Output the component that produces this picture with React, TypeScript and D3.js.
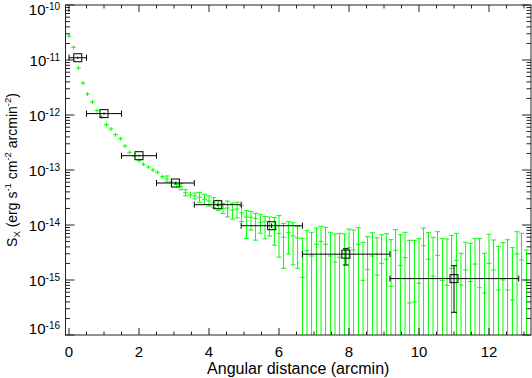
import * as d3 from "d3";

// surface brightness profile, fine bins (arcmin)
const radius = [
  0.0, 0.13, 0.27, 0.4, 0.53, 0.67, 0.8, 0.93, 1.07, 1.2, 1.33, 1.47, 1.6, 1.73, 1.87, 2.0, 2.13, 2.27, 2.4, 2.53,
  2.67, 2.8, 2.93, 3.07, 3.2, 3.33, 3.47, 3.6, 3.73, 3.87, 4.0, 4.13, 4.27, 4.4, 4.53, 4.67, 4.8, 4.93, 5.07, 5.2,
  5.33, 5.47, 5.6, 5.73, 5.87, 6.0, 6.13, 6.27, 6.4, 6.53, 6.67, 6.8, 6.93, 7.07, 7.2, 7.33, 7.47, 7.6, 7.73, 7.87,
  8.0, 8.13, 8.27, 8.4, 8.53, 8.67, 8.8, 8.93, 9.07, 9.2, 9.33, 9.47, 9.6, 9.73, 9.87, 10.0, 10.13, 10.27, 10.4, 10.53,
  10.67, 10.8, 10.93, 11.07, 11.2, 11.33, 11.47, 11.6, 11.73, 11.87, 12.0, 12.13, 12.27, 12.4, 12.53, 12.67, 12.8, 12.93, 13.07,
];
const binHalf = 0.067;

const sx = [
  2.73e-11, 1.7e-11, 7.16e-12, 3.82e-12, 2.41e-12, 1.72e-12, 1.2e-12, 9.2e-13, 6.67e-13, 5.56e-13,
  4.39e-13, 3.71e-13, 2.73e-13, 2.1e-13, 1.8e-13, 1.48e-13, 1.27e-13, 1.135e-13, 1.0e-13, 9.08e-14,
  7.55e-14, 6.86e-14, 6.05e-14, 5.45e-14, 4.98e-14, 3.86e-14, 3.51e-14, 3.37e-14, 3.19e-14, 2.93e-14,
  2.73e-14, 2.54e-14, 2.28e-14, 2.01e-14, 2.04e-14, 1.87e-14, 1.95e-14, 1.67e-14, 1.4e-14, 1.38e-14,
  1.32e-14, 1.12e-14, 1.17e-14, 9.6e-15, 8.45e-15, 7.06e-15, 5.97e-15, 7.24e-15, 6.31e-15, 5.8e-15,
  1.12e-15, 3.41e-15, 2.73e-15, 4.46e-15, 5.05e-15, 4.46e-15, 2.73e-15, 2.12e-15, 2.59e-15, 3.06e-15,
  3.87e-15, 3.51e-15, 4.46e-15, 9.87e-16, 1.56e-15, 2.73e-15, 1.23e-15, 2.01e-15, 2.38e-15, 7.68e-16,
  3.47e-15, 1.85e-15, 2.54e-15, 3.82e-16, 3.98e-16, 8.71e-16, 4.2e-15, 2.38e-15, 1.18e-15, 2.81e-15,
  9.71e-16, 8.01e-16, 1.63e-15, 2.28e-15, 8.11e-16, 1.52e-15, 9.4e-16, 1.95e-15, 7.24e-16, 5.81e-16,
  2.01e-15, 1.52e-15, 6.58e-16, 1.0e-15, 6.58e-16, 4.33e-16, 2.97e-15, 2.31e-15, 1.0e-15,
];
const sxLo = [
  2.51e-11, 1.56e-11, 6.6e-12, 3.5e-12, 2.22e-12, 1.58e-12, 1.1e-12, 8.5e-13, 6.1e-13, 5.1e-13,
  4.04e-13, 3.41e-13, 2.51e-13, 1.93e-13, 1.66e-13, 1.36e-13, 1.17e-13, 1.04e-13, 9.2e-14, 8.35e-14,
  6.95e-14, 6.05e-14, 5.34e-14, 4.81e-14, 4.39e-14, 3.4e-14, 3.1e-14, 2.97e-14, 2.59e-14, 2.38e-14,
  2.21e-14, 2.06e-14, 1.85e-14, 1.63e-14, 1.4e-14, 1.28e-14, 1.35e-14, 1.15e-14, 5.7e-15, 8.1e-15,
  5.3e-15, 7.1e-15, 5.6e-15, 6.3e-15, 4.3e-15, 2.6e-15, 1.63e-15, 2.97e-15, 1.88e-15, 1.63e-15,
  0, 0, 0, 0, 0, 0, 0, 0, 0, 0,
  0, 0, 0, 0, 0, 0, 0, 0, 0, 0,
  0, 0, 0, 0, 0, 0, 0, 0, 0, 0,
  0, 0, 0, 0, 0, 0, 0, 0, 0, 0,
  0, 0, 0, 0, 0, 0, 0, 0, 0,
];
const sxHi = [
  2.97e-11, 1.85e-11, 7.8e-12, 4.15e-12, 2.62e-12, 1.87e-12, 1.3e-12, 1.0e-12, 7.25e-13, 6.05e-13,
  4.77e-13, 4.03e-13, 2.97e-13, 2.28e-13, 1.96e-13, 1.61e-13, 1.38e-13, 1.23e-13, 1.09e-13, 9.87e-14,
  8.2e-14, 7.78e-14, 6.86e-14, 6.18e-14, 5.65e-14, 4.38e-14, 3.98e-14, 3.82e-14, 3.93e-14, 3.61e-14,
  3.37e-14, 3.13e-14, 2.81e-14, 2.48e-14, 2.73e-14, 2.51e-14, 2.6e-14, 2.24e-14, 1.82e-14, 1.75e-14,
  1.63e-14, 1.57e-14, 1.42e-14, 1.4e-14, 1.36e-14, 1.48e-14, 1.07e-14, 1.15e-14, 1.1e-14, 9.3e-15,
  5.73e-15, 7.88e-15, 7.37e-15, 8.82e-15, 9.47e-15, 9.08e-15, 7.37e-15, 6.86e-15, 7.06e-15, 6.86e-15,
  8.46e-15, 8.11e-15, 8.93e-15, 4.85e-15, 6.13e-15, 7.24e-15, 5.87e-15, 6.66e-15, 6.95e-15, 5.4e-15,
  8.21e-15, 6.66e-15, 7.37e-15, 5.27e-15, 5.27e-15, 5.64e-15, 8.82e-15, 7.24e-15, 5.97e-15, 7.55e-15,
  5.64e-15, 5.57e-15, 6.5e-15, 7.06e-15, 3.06e-15, 4.85e-15, 4.65e-15, 5.64e-15, 5.64e-15, 3.06e-15,
  6.78e-15, 5.34e-15, 4.1e-15, 4.77e-15, 5.4e-15, 3.87e-15, 7.55e-15, 7.06e-15, 3.51e-15,
];

// coarse bins
const binR = [0.25, 1.0, 2.0, 3.04, 4.25, 5.79, 7.91, 11.0];
const binRLo = [0, 0.5, 1.5, 2.5, 3.58, 4.92, 6.67, 9.17];
const binRHi = [0.5, 1.5, 2.5, 3.58, 4.92, 6.67, 9.17, 12.85];
const binS = [1.1e-11, 1.06e-12, 1.82e-13, 5.8e-14, 2.34e-14, 9.7e-15, 2.95e-15, 1.06e-15];
const binSLo = [1.05e-11, 1.01e-12, 1.75e-13, 5.5e-14, 2.2e-14, 8.8e-15, 1.87e-15, 2.59e-16];
const binSHi = [1.15e-11, 1.11e-12, 1.89e-13, 6.1e-14, 2.5e-14, 1.07e-14, 3.71e-15, 1.82e-15];

const xMajor = [0, 2, 4, 6, 8, 10, 12];
const yExp = [-16, -15, -14, -13, -12, -11, -10];

const W = 532;
const H = 378;
const L = 65.5;
const R = 531;
const T = 5;
const B = 335;
const FONT = "'Liberation Sans', Arial, Helvetica, sans-serif";
const GREEN = "#00ff00";

export default function App() {
  const x = d3.scaleLinear().domain([-0.1, 13.2]).range([L, R]);
  const y = d3.scaleLog().domain([1e-16, 1e-10]).range([B, T]).clamp(true);

  const xMinor = d3.range(0, 13.01, 0.5).filter((v) => v % 2 !== 0);
  const yMinor: number[] = [];
  yExp.slice(0, -1).forEach((e) => {
    for (let k = 2; k <= 9; k++) yMinor.push(k * Math.pow(10, e));
  });

  const cap = 2.5;

  return (
    <svg
      width={W}
      height={H}
      style={{ position: "absolute", left: 0, top: 0, background: "#fff" }}
      fontFamily={FONT}
    >
      <rect width={W} height={H} fill="#fff" />

      {/* fine profile */}
      <g stroke={GREEN} strokeWidth={1} fill="none">
        {radius.map((r, i) => {
          const cx = x(r);
          const cy = y(sx[i]);
          const y1 = y(sxHi[i]);
          const y0 = y(sxLo[i]);
          const big = y0 - y1 > 6;
          return (
            <g key={i}>
              <line x1={x(r - binHalf)} x2={x(r + binHalf)} y1={cy} y2={cy} />
              <line x1={cx} x2={cx} y1={y1} y2={y0} />
              {big && <line x1={cx - cap} x2={cx + cap} y1={y1} y2={y1} />}
              {big && sxLo[i] > 1e-16 && <line x1={cx - cap} x2={cx + cap} y1={y0} y2={y0} />}
            </g>
          );
        })}
      </g>

      {/* coarse bins */}
      <g stroke="#000" strokeWidth={1} fill="none">
        {binR.map((r, i) => {
          const cx = x(r);
          const cy = y(binS[i]);
          const xa = x(binRLo[i]);
          const xb = x(binRHi[i]);
          const ya = y(binSHi[i]);
          const yb = y(binSLo[i]);
          return (
            <g key={i}>
              <line x1={xa} x2={xb} y1={cy} y2={cy} />
              <line x1={xa} x2={xa} y1={cy - 3} y2={cy + 3} />
              <line x1={xb} x2={xb} y1={cy - 3} y2={cy + 3} />
              <line x1={cx} x2={cx} y1={ya} y2={yb} />
              {yb - ya > 10 && <line x1={cx - 3} x2={cx + 3} y1={ya} y2={ya} />}
              {yb - ya > 10 && <line x1={cx - 3} x2={cx + 3} y1={yb} y2={yb} />}
              <rect x={cx - 4} y={cy - 4} width={8} height={8} fill="none" />
            </g>
          );
        })}
      </g>

      {/* frame and ticks */}
      <g stroke="#222" strokeWidth={1} fill="none">
        <rect x={L} y={T} width={R - L} height={B - T} />
        {xMajor.map((v) => (
          <g key={"xm" + v}>
            <line x1={x(v)} x2={x(v)} y1={B} y2={B - 7} />
            <line x1={x(v)} x2={x(v)} y1={T} y2={T + 7} />
          </g>
        ))}
        {xMinor.map((v) => (
          <g key={"xn" + v}>
            <line x1={x(v)} x2={x(v)} y1={B} y2={B - 3.5} />
            <line x1={x(v)} x2={x(v)} y1={T} y2={T + 3.5} />
          </g>
        ))}
        {yExp.map((e) => (
          <g key={"ym" + e}>
            <line x1={L} x2={L + 9} y1={y(Math.pow(10, e))} y2={y(Math.pow(10, e))} />
            <line x1={R} x2={R - 9} y1={y(Math.pow(10, e))} y2={y(Math.pow(10, e))} />
          </g>
        ))}
        {yMinor.map((v, i) => (
          <g key={"yn" + i}>
            <line x1={L} x2={L + 4.5} y1={y(v)} y2={y(v)} />
            <line x1={R} x2={R - 4.5} y1={y(v)} y2={y(v)} />
          </g>
        ))}
      </g>

      {/* tick labels */}
      <g fontSize={15} fill="#000">
        {xMajor.map((v) => (
          <text key={"xl" + v} x={x(v)} y={357} textAnchor="middle">
            {v}
          </text>
        ))}
        {yExp.map((e) => (
          <text
            key={"yl" + e}
            x={60}
            y={Math.min(334, Math.max(14.5, y(Math.pow(10, e)) + 5.5))}
            textAnchor="end"
          >
            10
            <tspan fontSize={10} dy={-5}>
              {e}
            </tspan>
          </text>
        ))}
      </g>

      {/* axis titles */}
      <text x={(L + R) / 2} y={374} textAnchor="middle" fontSize={16}>
        Angular distance (arcmin)
      </text>
      <text transform={`translate(17,${(T + B) / 2}) rotate(-90)`} textAnchor="middle" fontSize={14}>
        S
        <tspan fontSize={9.5} dy={3}>X</tspan>
        <tspan dy={-3}> (erg s</tspan>
        <tspan fontSize={9.5} dy={-6}>-1</tspan>
        <tspan dy={6}> cm</tspan>
        <tspan fontSize={9.5} dy={-6}>-2</tspan>
        <tspan dy={6}> arcmin</tspan>
        <tspan fontSize={9.5} dy={-6}>-2</tspan>
        <tspan dy={6}>)</tspan>
      </text>
    </svg>
  );
}
